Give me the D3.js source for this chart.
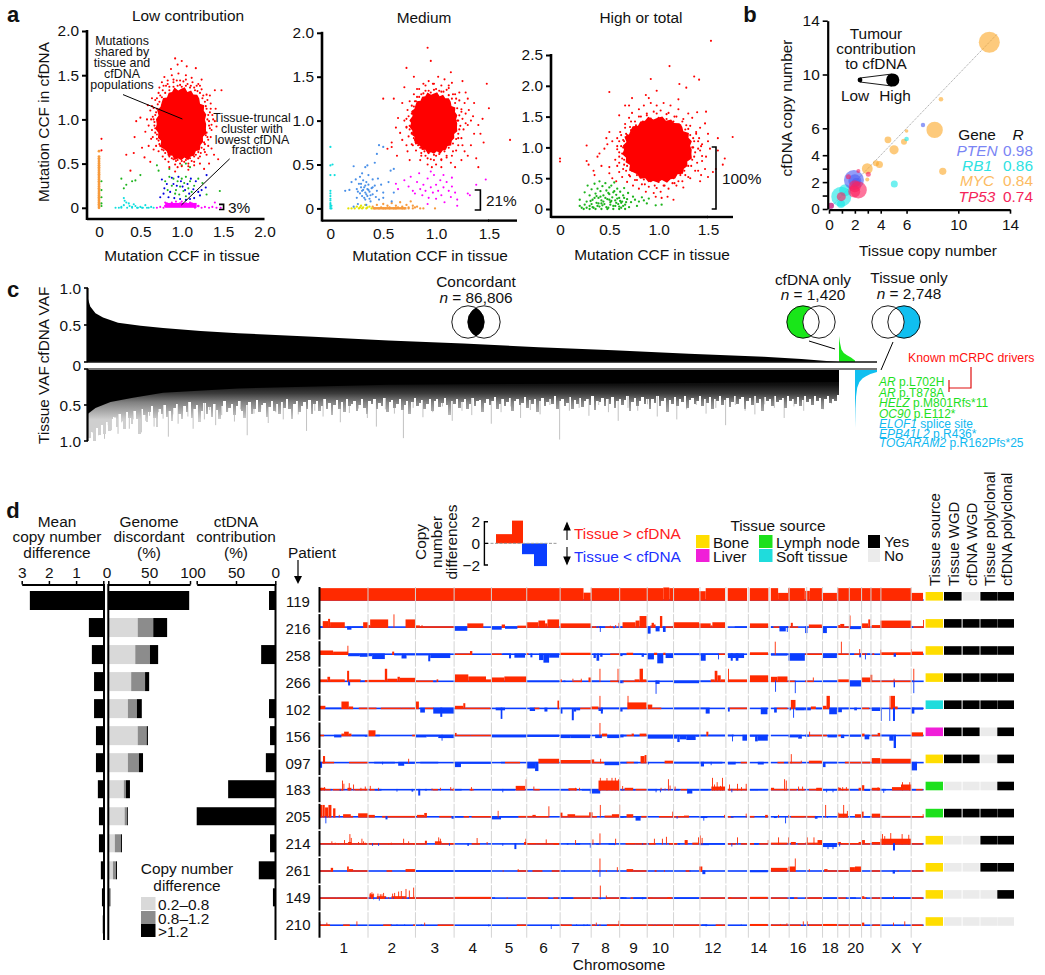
<!DOCTYPE html>
<html><head><meta charset="utf-8">
<script src="https://cdn.jsdelivr.net/npm/d3@7"></script>
<style>html,body{margin:0;padding:0;background:#fff}svg{display:block}text{font-family:"Liberation Sans",Arial,sans-serif;fill:#111}</style>
</head><body><svg id="c" width="1045" height="975"></svg>
<script>
/* ---------- panel a values ---------- */
const lowCore=[0.995,0.947,0.3,0.4], medCore=[0.98,0.97,0.22,0.34], highCore=[0.99,0.96,0.345,0.52];
const coreEdge=[1,.96,1.04,.98,1.06,.95,1.02,1.05,.97,1.03,.94,1.05,1,.96,1.07,.98,1.02,.95,1.04,1,.97,1.06,.95,1.03,.99,1.05,.96,1.02,.94,1.06,1,.97,1.04,.96,1.05,.98,1.02,.95,1.06,.99,1.03,.96,1.05,.97,1.01,.94,1.04,1];
const lowRed=[[1.31,1.0],[1.33,.93],[1.3,.85],[1.34,1.08],[1.29,1.15],[1.36,.88],[1.28,.72],[1.32,.77],[1.38,1.0],[1.31,1.22],[1.26,1.27],[1.35,1.18],[1.41,1.12],[1.27,.66],[1.23,.62],[1.3,.6],[1.36,.67],[1.2,.56],[1.17,.6],[1.12,.53],[1.08,.5],[1.15,.48],[1.03,.52],[.98,.5],[.93,.53],[.88,.56],[.84,.6],[.95,.46],[.8,.55],[.78,.65],[.74,.7],[.72,.76],[.7,.83],[.68,.9],[.67,.97],[.65,1.03],[.69,1.08],[.66,1.13],[.71,1.17],[.7,1.24],[.74,1.27],[.77,1.33],[.73,1.36],[.81,1.38],[.85,1.37],[.83,1.44],[.9,1.42],[.94,1.44],[.98,1.39],[1.02,1.43],[1.07,1.4],[1.11,1.38],[1.15,1.36],[1.19,1.32],[1.12,1.47],[1.05,1.5],[.96,1.52],[.88,1.5],[1.2,1.4],[.6,.93],[.62,1.1],[.58,1.0],[.63,.78],[.66,.66],[.6,.7],[.92,1.69],[1.0,1.66],[.95,1.62],[1.17,1.58],[1.06,1.6],[.79,1.48],[1.24,1.45],[1.4,1.33],[1.48,1.33],[1.42,.92],[1.45,.75],[1.39,.6],[1.44,.55],[.45,.98],[.5,1.02],[.43,.8],[.42,.62],[.33,.6],[.38,.42],[.52,.68],[.62,.52],[1.33,.5],[.03,.78],[.03,.65],[1.27,.44],[1.08,.43],[.85,.46],[1.22,.5],[.55,.57],[1.4,.98],[1.22,1.38],[.87,1.57],[.76,1.42],[1.34,1.27],[.56,.86],[.59,1.16],[.64,1.24],[.92,.41],
[1.33,.98],[1.32,1.05],[1.34,.9],[1.31,.8],[1.3,1.12],[1.28,1.2],[1.25,1.24],[1.22,1.3],[1.16,1.33],[1.1,1.36],[1.05,1.38],[1,1.37],[.95,1.38],[.9,1.37],[.85,1.33],[.8,1.3],[.76,1.25],[.73,1.2],[.7,1.12],[.68,1.05],[.66,1.0],[.67,.93],[.68,.85],[.7,.78],[.73,.72],[.76,.66],[.8,.62],[.85,.58],[.9,.55],[.95,.54],[1.0,.53],[1.05,.54],[1.1,.56],[1.15,.58],[1.2,.63],[1.24,.68],[1.27,.74],[1.29,.82],[1.36,.94],[1.37,1.05],[1.35,1.12],[1.3,1.28],[1.24,1.34],[1.18,1.38],[1.13,1.42],[1.05,1.45],[.98,1.44],[.9,1.45],[.83,1.4],[.78,1.38],[.72,1.3],[.68,1.22],[.64,1.15],[.63,1.0],[.64,.88],[.65,.8],[.69,.7],[.72,.64],[.77,.58],[.84,.52],[.92,.49],[1.0,.47],[1.08,.47],[1.15,.52],[1.22,.58],[1.28,.63],[1.32,.7],[1.35,.8]];
const lowGreen=[[.7,.48],[.72,.42],[.27,.33],[.33,.26],[.4,.3],[.44,.31],[.5,.37],[.3,.22],[.85,.44],[1.0,.48],[1.05,.5],[1.1,.46],[.85,.35],[.9,.33],[.95,.3],[1.0,.33],[1.05,.35],[1.1,.3],[.88,.25],[.93,.2],[.98,.24],[1.03,.28],[1.08,.22],[1.12,.18],[.92,.16],[.97,.15],[1.02,.19],[1.05,.13],[1.15,.25],[1.2,.33],[1.25,.28],[.8,.3],[.83,.2],[1.3,.15],[1.46,.19],[.03,.3],[.03,.2],[.03,.12],[.03,.05],[.03,.02]];
const lowBlue=[[.76,.32],[.79,.22],[.82,.27],[.86,.18],[.88,.34],[.9,.27],[.94,.25],[.96,.35],[.99,.3],[1.01,.24],[1.04,.2],[1.07,.27],[1.09,.16],[1.11,.33],[1.14,.21],[1.17,.3],[1.2,.18],[1.24,.2],[.84,.12],[.91,.11],[.98,.1],[1.05,.09],[1.1,.1],[1.15,.11],[1.22,.14],[.78,.16],[.74,.12],[1.29,.23],[1.3,.37]];
const lowMagenta=[[.7,.0],[.74,.01],[.78,.0],[.8,.06],[.83,.03],[.85,.02],[.88,.06],[.9,.04],[.93,.07],[.95,.02],[.98,.05],[1.0,.07],[1.02,.03],[1.05,.05],[1.08,.02],[1.1,.06],[1.13,.03],[1.16,.0],[1.2,.02],[1.24,.0],[1.28,.01],[1.33,.0],[1.37,.01],[1.42,.0],[1.47,.0],[1.4,.06]];
const lowMagCore=[[.8,.02],[1.2,.02],[.82,.05],[1.12,.05]];
const lowCyan=[[.2,0],[.24,0],[.27,.01],[.3,.03],[.3,.11],[.31,.08],[.33,.06],[.36,.05],[.37,.02],[.4,.01],[.42,.04],[.44,.02],[.47,.0],[.5,.01],[.53,.0],[.56,.03],[.6,.0],[.63,.01],[.27,.0],[.34,.0],[.4,.0],[.46,.0],[.52,.0],[.58,.0],[.66,0]];
const lowOrange=[0,.02,.04,.06,.08,.1,.12,.14,.16,.18,.2,.22,.24,.26,.28,.3,.32,.34,.36,.38,.4,.42,.44,.46,.48,.5,.52,.54,.56,.58,.64];
const medRed=[[1.2,1.0],[1.22,.9],[1.24,1.1],[1.21,.8],[1.25,.72],[1.27,1.2],[1.19,1.25],[1.16,1.3],[1.22,1.32],[1.3,.95],[1.31,1.12],[1.36,.85],[1.33,.72],[1.27,.65],[1.19,.66],[1.15,.6],[1.1,.58],[1.14,.52],[1.05,.55],[1.0,.6],[.95,.56],[.9,.6],[.86,.63],[.92,.5],[1.0,.5],[1.05,.47],[.83,.72],[.8,.78],[.77,.85],[.75,.9],[.72,.93],[.76,1.0],[.74,1.05],[.78,1.1],[.77,1.17],[.8,1.22],[.82,1.27],[.86,1.3],[.9,1.34],[.95,1.32],[1.0,1.36],[1.05,1.33],[1.1,1.35],[.93,1.45],[.97,1.42],[1.02,1.5],[1.08,1.47],[1.15,1.43],[.88,1.42],[.82,1.36],[.92,1.83],[.95,1.68],[.72,1.6],[.79,1.5],[1.14,1.55],[.5,1.25],[.6,1.25],[.68,1.2],[.64,1.03],[.62,.92],[.66,.86],[.58,.75],[.54,.68],[.58,.7],[.68,.78],[.63,.6],[.73,.65],[.75,.55],[1.3,1.25],[1.35,1.05],[1.44,1.02],[1.4,.95],[1.48,1.42],[1.5,1.14],[1.28,1.32],[1.42,.85],[1.45,.75],[1.7,.78],[1.38,.57],[1.4,.47],[1.3,.6],[1.24,.55],[.7,1.38],[1.25,1.45],[.85,.55],[1.18,.47],[.96,.47],[.78,.72],[1.33,1.0],[.7,1.0],[1.12,1.4],[1.36,1.2],[.72,.72],
[1.21,1.0],[1.22,1.06],[1.23,.94],[1.21,.85],[1.2,1.14],[1.18,1.2],[1.15,1.25],[1.12,1.29],[1.07,1.33],[1.03,1.34],[.98,1.35],[.93,1.34],[.88,1.31],[.84,1.27],[.81,1.22],[.79,1.16],[.77,1.08],[.76,1.0],[.75,.94],[.77,.86],[.79,.8],[.81,.74],[.85,.69],[.89,.65],[.93,.63],[.98,.61],[1.03,.62],[1.08,.65],[1.12,.69],[1.16,.74],[1.19,.79],[1.25,1.02],[1.26,.9],[1.24,1.13],[1.22,1.23],[1.18,1.3],[1.12,1.37],[1.05,1.4],[.98,1.42],[.9,1.4],[.84,1.36],[.79,1.3],[.75,1.22],[.73,1.12],[.72,1.02],[.72,.92],[.74,.82],[.77,.73],[.81,.66],[.86,.6],[.92,.57],[.98,.55],[1.05,.56],[1.1,.6],[1.16,.65],[1.21,.72],[1.24,.8],[1.28,.97],[1.28,1.08]];
const medBlue=[[.14,.2],[.18,.21],[.2,.3],[.22,.48],[.24,.33],[.25,.22],[.25,.12],[.27,.28],[.28,.17],[.29,.24],[.3,.2],[.3,.14],[.31,.32],[.32,.24],[.33,.18],[.33,.1],[.34,.3],[.35,.22],[.35,.14],[.36,.27],[.37,.19],[.38,.08],[.39,.23],[.4,.33],[.4,.16],[.42,.26],[.43,.13],[.44,.2],[.45,.34],[.46,.1],[.48,.27],[.5,.12],[.5,.18],[.55,.3],[.57,.43],[.58,.08],[.6,.45],[.35,.49],[.33,.47],[.44,.62],[.46,.72],[.5,.7],[.42,.52],[.6,.18],[.3,.4],[.36,.38],[.26,.05],[.22,.02],[.34,.04],[.28,.36],[.26,.19],[.29,.28],[.31,.21],[.33,.26],[.34,.16],[.36,.21],[.38,.15],[.4,.24],[.32,.12],[.37,.11]];
const medCyan=[[0,.7],[0,.49],[.02,.5],[0,.38],[.04,.38],[0,.2],[0,.17],[0,.14],[0,.11],[0,.09],[0,.06],[0,.04],[0,.02],[0,0],[.01,0],[.01,.03]];
const medMagenta=[[.62,.28],[.64,.22],[.7,.32],[.74,.25],[.76,.36],[.78,.2],[.8,.17],[.82,.3],[.84,.4],[.85,.22],[.87,.15],[.88,.27],[.9,.2],[.92,.34],[.93,.12],[.95,.24],[.97,.18],[.98,.38],[1.0,.27],[1.0,.11],[1.02,.2],[1.04,.32],[1.05,.15],[1.07,.24],[1.08,.07],[1.1,.3],[1.12,.2],[1.14,.13],[1.15,.35],[1.18,.18],[1.2,.1],[1.2,.03],[1.3,.17],[1.32,.15],[1.38,.27],[1.47,.33],[.95,.42],[1.07,.38],[.92,.05],[1.15,.25]];
const medOrange=[[.4,.02],[.44,.04],[.46,0],[.48,.01],[.5,.05],[.52,0],[.54,.03],[.56,.01],[.58,.06],[.6,0],[.62,.03],[.64,.01],[.66,.07],[.68,.02],[.7,0],[.72,.04],[.74,.01],[.76,.08],[.78,.03],[.8,.01],[.82,.02],[.85,0],[.88,.0],[.99,0],[.42,0],[.5,0],[.56,0],[.62,0],[.68,0],[.74,0],[.78,0]];
const medYellow=[[.17,0],[.2,0],[.23,0],[.25,.02],[.27,0],[.29,.03],[.31,.01],[.33,.04],[.35,.01],[.37,.02],[.39,0],[.28,.01],[.34,0],[.3,0]];
const highRed=[[1.34,1.0],[1.36,.85],[1.35,1.15],[1.3,1.3],[1.33,.7],[1.27,.55],[1.2,.45],[1.14,.42],[1.06,.38],[.98,.34],[.9,.36],[.83,.4],[.76,.47],[.71,.53],[.67,.62],[.65,.72],[.63,.82],[.6,.92],[.62,1.02],[.64,1.12],[.67,1.22],[.71,1.33],[.76,1.42],[.82,1.5],[.88,1.55],[.95,1.58],[1.02,1.6],[1.1,1.56],[1.18,1.5],[1.24,1.42],[1.28,1.36],[1.4,1.1],[1.42,.95],[1.44,.78],[1.4,.62],[1.38,1.25],[1.32,.5],[1.25,.35],[1.18,.38],[1.1,.33],[1.02,.28],[.95,.26],[.87,.28],[.8,.33],[.74,.38],[.68,.44],[.63,.52],[.6,.6],[.58,.7],[.56,.8],[.58,1.02],[.58,1.15],[.61,1.25],[.66,1.38],[.7,1.48],[.73,1.56],[.8,1.62],[.85,1.68],[.92,1.72],[.98,1.68],[1.05,1.72],[1.12,1.68],[1.2,1.62],[1.3,1.55],[1.34,1.48],[1.42,1.32],[1.5,1.22],[1.52,.98],[1.48,.85],[1.47,.65],[1.43,.55],[1.5,.52],[1.42,.45],[1.15,.15],[1.09,.2],[1.03,.18],[.97,.2],[1.6,.95],[1.75,1.17],[1.6,1.15],[1.67,.82],[1.65,.72],[1.58,.65],[1.55,.6],[1.53,2.73],[1.11,2.32],[.92,2.11],[.5,1.9],[1.36,2.15],[1.41,2.1],[1.21,2.03],[1.28,1.97],[.98,1.92],[.87,1.85],[.73,1.8],[.66,1.68],[.6,1.52],[.5,1.25],[.47,1.15],[.53,1.1],[.48,1.05],[.27,1.03],[.4,.9],[.38,.85],[.45,.98],[.27,.78],[.29,.72],[.34,.62],[.35,.55],[.42,.7],[.5,.68],[.5,.58],[.53,.5],[.57,.45],[0,.82],[0,.77],[.7,1.68],[.9,1.8],[1.2,1.78],[1.39,1.57],[1.48,1.58],[1.47,1.39],[1.43,1.02],[1.5,1.1],
[1.35,1.0],[1.37,.92],[1.34,.8],[1.36,1.1],[1.32,1.2],[1.3,.7],[1.26,.62],[1.22,.55],[1.15,.5],[1.08,.47],[1.0,.44],[.92,.45],[.85,.48],[.78,.55],[.73,.62],[.68,.7],[.65,.8],[.63,.9],[.64,1.0],[.65,1.1],[.68,1.2],[.72,1.28],[.77,1.36],[.84,1.42],[.92,1.47],[1.0,1.48],[1.08,1.46],[1.15,1.42],[1.22,1.36],[1.27,1.29],[1.4,.98],[1.41,1.15],[1.39,.75],[1.37,.62],[1.3,.52],[1.24,.45],[1.16,.42],[1.05,.38],[.96,.38],[.86,.4],[.78,.47],[.7,.55],[.64,.65],[.6,.75],[.6,.85],[.58,.97],[.6,1.1],[.62,1.2],[.66,1.32],[.72,1.42],[.8,1.5],[.88,1.52],[.98,1.55],[1.08,1.54],[1.16,1.5],[1.25,1.46],[1.32,1.35],[1.38,1.22],[1.44,1.05],[1.44,.86]];
const highGreen=[[.2,.05],[.22,.02],[.2,.15],[.25,.27],[.27,.12],[.28,.38],[.3,.22],[.3,.05],[.32,.32],[.33,.15],[.34,.02],[.35,.41],[.36,.25],[.37,.1],[.38,.33],[.39,.18],[.4,.45],[.4,.04],[.41,.29],[.42,.14],[.43,.37],[.44,.22],[.45,.08],[.46,.42],[.47,.3],[.48,.16],[.49,.02],[.5,.35],[.5,.24],[.51,.11],[.52,.38],[.53,.19],[.54,.05],[.55,.43],[.55,.29],[.56,.14],[.57,.23],[.58,.33],[.59,.08],[.6,.18],[.61,.28],[.62,.02],[.63,.12],[.64,.22],[.65,.34],[.66,.07],[.68,.16],[.69,.26],[.7,.03],[.72,.11],[.74,.2],[.76,.15],[.78,.05],[.8,.12],[.83,.19],[.85,.14],[.88,.09],[.9,.17],[.97,.06],[1.03,.07],[.24,.0],[.3,.0],[.36,.0],[.42,.0],[.48,.0],[.54,.0],[.6,.0],[.66,.0],[.25,.07],[.32,.08],[.38,.05],[.44,.12],[.5,.15],[.56,.05],[.62,.1],[.27,.02],[.33,.03],[.39,.09],[.41,.2],[.43,.06],[.46,.18],[.47,.03],[.49,.26],[.51,.07],[.52,.13],[.54,.27],[.57,.1],[.58,.17],[.6,.04],[.61,.13],[.64,.05],[.65,.18],[.67,.11],[.35,.18],[.31,.13],[.37,.21],[.42,.09]];
const tickA12=[0,.5,1,1.5,2], tickHighY=[0,.5,1,1.5,2,2.5], tickA=[0,.5,1,1.5];
/* ---------- panel b values ---------- */
const mycBubbles=[[12.4,12.4,10.5],[8.66,8.16,2.3],[8.17,5.88,8.2],[6,5.8,1.8],[4.56,5.14,3.4],[5.8,5,3],[5.03,4.4,4.6],[3.9,3.3,3.5],[3.63,3.4,3],[2.96,3,5.4],[8.8,2.8,3.6],[2.96,2.2,2]];
const rb1Bubbles=[[6,5.2,2.3],[5.05,1.86,3.5],[.95,.92,10],[1.25,1.4,6],[.93,.37,4]];
const ptenBubbles=[[7.27,6.25,2.2],[1.93,2.16,10],[2,2.1,6.5],[2.1,2,4],[.15,.25,3]];
const tp53Bubbles=[[2.27,1.41,8.5],[1.95,1.3,6],[3.04,2.58,2.5],[2.27,2.83,2],[1.5,2.4,2.5],[.95,.92,4.5],[.15,.25,3],[2,1.7,6]];
const geneLegend=["PTEN","RB1","MYC","TP53"], geneR=["0.98","0.86","0.84","0.74"];
const tickB=[0,2,4,6,10,14], tickBMinor=[1,3];
/* ---------- panel c values ---------- */
const cfRank=[0,.003,.01,.02,.04,.07,.1,.15,.2,.3,.4,.5,.6,.7,.8,.9,.95,1];
const cfVaf=[.85,.75,.66,.6,.53,.49,.46,.42,.39,.34,.29,.25,.2,.16,.11,.07,.04,0];
const greenRank=[0,.05,.15,.3,.5,.75,1], greenVaf=[.35,.27,.17,.12,.09,.06,.02];
const blueRank=[0,.02,.05,.1,.2,.35,.5,.7,1], blueVaf=[.82,.55,.38,.26,.18,.13,.1,.07,.04];
const coreRank=[0,.01,.03,.06,.1,.2,.4,.7,1], coreDepth=[.62,.54,.46,.4,.33,.27,.22,.2,.18];
const fineDepth=[96,88,100,82,92,78,90,74,86,70,66,80,62,72,84,60,68,76,58,70,90,56,64,74,60,52,68,80,55,62,50,66,58,72,54,48,63,70,52,60,46,68,55,50,74,58,47,62,53,66,49,57,70,51,45,60,54,48,64,52,44,58,68,50,46,62,55,43,60,50,47,66,53,44,58,49,62,46,54,42,56,70,48,44,60,51,46,55,43,63,49,45,58,52,41,56,47,64,50,43,55,46,60,42,52,48,44,58,50,41,54,62,45,49,42,56,47,52,40,60,46,43,54,48,41,57,50,44,62,46,40,52,47,43,55,49,41,58,45,42,53,47,40,50,64,44,48,41,54,46,42,56,49,40,52,45,43,60,47,41,50,44,39,55,48,42,52,46,40,58,44,41,50,47,39,54,43,48,41,60,45,40,52,46,42,49,38,55,44,41,51,47,39,56,43,48,40,53,45,41,50,38,57,44,46,40,52,42,48,39,54,45,41,50,43,38,58,46,40,52,44,39,49,42,55,41,47,38,51,44,40,60,43,48,39,52,41,46,38,54,43,40,49,45,37,52,42,47,39,56,41,44,38,50,43,40,53,46,37,48,42,39,55,44,40,50,38,47,42,58,39,45,41,51,38,46,43,40,54,37,44,41,48,39,52,43,38,46,41,50,37,44,40,56,42,38,47,41,44,36];
const spikeRank=[.002,.006,.01,.014,.018,.022,.027,.031,.036,.04,.045,.05,.055,.06,.066,.071,.077,.082,.088,.094,.1,.107,.113,.12,.126,.133,.14,.147,.155,.162,.17,.178,.186,.195,.203,.212,.221,.23,.24,.25,.26,.27,.28,.291,.302,.313,.325,.336,.348,.36,.372,.384,.396,.408,.42,.433,.446,.459,.472,.485,.498,.511,.524,.537,.55,.563,.576,.589,.602,.615,.628,.641,.654,.667,.68,.693,.706,.719,.732,.745,.758,.771,.784,.797,.81,.823,.836,.849,.862,.875,.888,.901,.914,.927,.94,.953,.966,.979,.99];
const spikeDepth=[.96,.88,1,.92,.72,.97,.78,.85,.68,.9,.74,.66,.83,.7,.62,.88,.72,.65,.8,.6,.69,.94,.63,.76,.58,.66,.83,.6,.7,.57,.78,.64,.59,.73,.56,.92,.62,.55,.75,.6,.7,.54,.63,.86,.58,.66,.53,.74,.61,.55,.68,.8,.56,.62,.96,.54,.67,.6,.52,.72,.58,.64,.54,.76,.6,.52,.68,.57,.63,.5,.98,.58,.54,.65,.5,.6,.72,.54,.58,.49,.66,.53,.7,.56,.5,.62,.54,.78,.5,.58,.63,.49,.54,.68,.52,.58,.5,.56,.48];
const tickVaf=[.5,1];
const vennSets=[{name:"Concordant",n:"= 86,806"},{name:"cfDNA only",n:"= 1,420"},{name:"Tissue only",n:"= 2,748"}];
const driversGreen=[["AR"," p.L702H"],["AR"," p.T878A"],["HELZ"," p.M801Rfs*11"],["OC90"," p.E112*"]];
const driversBlue=[["ELOF1"," splice site"],["EPB41L2"," p.R436*"],["TOGARAM2"," p.R162Pfs*25"]];
/* ---------- panel d values ---------- */
const patients=["119","216","258","266","102","156","097","183","205","214","261","149","210"];
const meanDiff=[2.7,.53,.42,.34,.34,.27,.27,.2,.16,.16,.09,.05,.02];
const discLight=[0,36,33,28,24,36,24,19,20,8,5.7,1,0];
const discMid=[0,19,18,17,11,11,13.5,2.6,3,7.5,3.7,.5,0];
const discBlack=[99,17,10,5,6,1.5,5,4.9,1,1.2,1.2,1,0];
const ctdna=[8,0,18,0,8,6.7,12,60,100,6.7,21,3,0];
const tissueSource=["Bone","Bone","Bone","Bone","Soft tissue","Liver","Bone","Lymph node","Lymph node","Bone","Bone","Bone","Bone"];
const tissueWGD=[1,1,1,1,1,1,1,0,1,0,0,0,0];
const cfdnaWGD=[0,1,1,1,1,1,1,0,1,0,0,0,0];
const tissuePoly=[1,1,1,1,1,0,0,0,1,1,1,0,0];
const cfdnaPoly=[1,1,1,1,1,1,1,1,1,1,1,1,0];
const chromNames=["1","2","3","4","5","6","7","8","9","10","11","12","13","14","15","16","17","18","19","20","21","22","X","Y"];
const chromMb=[249,243,198,191,181,171,159,146,141,135,135,133,115,107,102,90,81,78,59,63,48,51,155,59];
const chromShown=["1","2","3","4","5","6","7","8","9","10","12","14","16","18","20","X","Y"];
const binMb=1.71; // segment positions below are in bins of 1.71 Mb along the genome
const noData=[[1215,1223],[1281,1289],[1345,1352]];
const seg119=[[0,791,1.12],[791,813,.72],[813,1030,1.12],[1030,1048,1.18],[1048,1137,1.12],[1137,1157,.85],[1157,1374,1.12],[1374,1404,.7],[1404,1454,1.12],[1455,1469,.88],[1469,1505,1.12],[1506,1550,.7],[1551,1773,1.12],[1773,1808,.7]];
const seg216=[[0,10,-.15],[10,26,.6],[26,32,.8],[32,76,.5],[83,96,-.3],[96,131,-.1],[131,146,.5],[146,152,.25],[152,206,.75],[258,288,.75],[288,301,.22],[301,404,.15],[405,443,-.4],[443,491,.4],[516,546,-.3],[546,556,.3],[556,593,-.22],[593,620,.2],[620,656,.5],[656,676,.65],[676,683,.4],[683,718,.75],[721,813,.4],[816,830,.08],[830,856,-.1],[856,880,.08],[902,908,-.1],[908,947,.5],[947,959,.65],[959,980,1.05],[982,992,-.65],[992,995,.25],[995,1002,.45],[1002,1007,.3],[1007,1019,-.45],[1020,1027,1.05],[1029,1037,-.5],[1037,1059,.05],[1059,1137,.5],[1137,1172,.4],[1172,1177,.22],[1177,1215,.5],[1244,1281,-.12],[1289,1345,.4],[1352,1360,-.15],[1360,1378,.1],[1378,1397,-.45],[1397,1404,-.12],[1405,1412,.15],[1412,1418,.45],[1418,1434,.12],[1455,1462,-.6],[1466,1505,.3],[1508,1520,-.6],[1520,1550,-.15],[1552,1560,.25],[1560,1572,.35],[1572,1588,.12],[1588,1622,-.25],[1624,1644,.4],[1644,1650,.75],[1654,1680,.25],[1680,1773,.65],[1773,1779,-.1],[1779,1808,.15]];
const spk216=[[222,1.2],[306,.25],[826,.15],[834,.1],[840,-.5],[870,.2],[881,-.18],[886,.25],[896,.45],[1400,-.5],[1588,1.1],[1808,.7]];
const seg258=[[0,41,.4],[41,86,.3],[86,121,-.25],[121,146,-.3],[146,158,-.25],[158,196,-.5],[218,224,.3],[224,246,-.18],[246,261,-.45],[261,288,-.18],[288,326,-.18],[326,332,-.7],[332,392,-.41],[406,451,.1],[451,458,.35],[516,546,.12],[548,568,-.05],[568,574,-.44],[584,616,-.38],[620,626,.18],[632,638,-.35],[658,671,-.59],[671,688,-.82],[688,718,-.38],[721,813,.2],[821,828,-.41],[830,838,-.65],[841,848,-.3],[871,901,.12],[901,908,-.24],[908,920,-.15],[920,940,.2],[940,965,-.12],[965,972,-.3],[982,1002,-.53],[1002,1012,.2],[1012,1030,-.88],[1030,1037,.2],[1037,1059,-.41],[1059,1137,-.15],[1137,1142,-.18],[1142,1157,-.65],[1157,1194,-.12],[1194,1215,.06],[1223,1272,-.41],[1232,1238,-.65],[1247,1255,-.65],[1289,1344,.24],[1352,1402,-.2],[1405,1454,-.65],[1455,1506,.15],[1508,1550,-.41],[1552,1588,.03],[1588,1602,-.12],[1602,1617,.12],[1617,1622,-.35],[1624,1640,.15],[1640,1650,-.12],[1656,1662,.15],[1680,1773,.24],[1720,1727,-.3],[1773,1808,.3]];
const spk258=[[84,.82],[1364,1.18],[1562,1.18],[1194,-.53],[1617,.53],[1634,-.53],[1680,.47],[1772,.53]];
const seg266=[[0,24,.24],[24,32,.47],[32,76,.24],[83,89,1],[86,92,-.44],[89,124,.24],[122,136,-.12],[136,146,.18],[146,196,.2],[196,203,1.18],[203,234,.3],[234,241,.47],[241,288,.38],[288,341,.15],[341,351,-.15],[351,356,.24],[406,446,.68],[446,499,.5],[499,516,.24],[516,554,.41],[554,620,.5],[620,718,-.15],[721,726,.24],[731,737,-.12],[761,786,.06],[806,813,.41],[816,839,-.12],[871,896,.12],[896,908,-.24],[908,944,.12],[944,959,.24],[959,969,1.18],[969,980,.24],[1007,1019,-.3],[1059,1137,-.24],[1137,1172,-.12],[1172,1184,.24],[1184,1192,1],[1192,1202,.6],[1202,1215,.24],[1223,1281,.24],[1289,1345,.6],[1352,1372,.47],[1372,1402,.5],[1404,1424,.06],[1455,1478,.06],[1507,1550,-.12],[1552,1587,.24],[1588,1622,-.53],[1624,1650,.41],[1650,1656,.65],[1654,1680,.12],[1680,1773,.12],[1720,1724,-.6],[1775,1779,-.05]];
const spk266=[[758,.3],[783,.3],[839,1.18],[893,1.18],[908,-.24],[965,1.18],[1007,-1.18],[1224,1.18],[1365,-1],[1424,-1.12],[1478,.41],[1720,.3],[1779,1.18],[1779,-1.12]];
const seg102=[[0,18,.3],[18,66,-.12],[66,88,.68],[88,101,.24],[118,146,.06],[146,171,.12],[184,246,.12],[246,271,.06],[271,288,.12],[288,298,.68],[302,316,-.44],[316,343,.12],[341,404,-.53],[362,368,-.82],[406,431,.3],[431,437,.53],[437,512,.12],[528,556,-.24],[543,548,-1],[630,646,-.3],[644,659,.12],[674,683,-.35],[713,718,.76],[722,728,-.53],[728,756,-.12],[756,762,-1.12],[762,769,-.35],[769,781,-.24],[781,813,.12],[813,836,.24],[836,849,-.3],[843,849,-.53],[849,901,-.12],[901,908,-.35],[908,923,-.1],[923,980,.6],[982,997,.41],[997,1024,.06],[1059,1137,-.15],[1137,1157,-.12],[1157,1169,-.53],[1223,1229,-.35],[1229,1281,.15],[1322,1342,-.59],[1362,1370,-.44],[1370,1402,.1],[1407,1412,-.24],[1412,1426,.82],[1426,1454,-.24],[1455,1472,-.24],[1472,1487,.24],[1487,1505,-.15],[1507,1519,.3],[1519,1529,1.18],[1527,1550,-.59],[1552,1565,-.41],[1565,1588,-.15],[1602,1610,-.24],[1624,1647,.12],[1654,1680,-.3],[1712,1724,1.18],[1718,1724,-1.18],[1724,1732,.24],[1773,1808,-.18],[1773,1782,-.53]];
const spk102=[[839,1.18],[923,1.18],[1419,-.9],[1682,-1.18],[1707,-1.18],[1708,1.18]];
const seg156=[[0,14,.06],[44,66,-.24],[66,74,.24],[74,88,.41],[88,96,.24],[98,136,-.12],[136,146,-.18],[146,168,.53],[168,181,-.1],[278,288,.06],[288,321,-.24],[321,356,-.18],[356,404,-.3],[406,411,.3],[411,452,.06],[452,516,.12],[516,620,-.24],[620,718,-.2],[721,753,-.3],[753,811,-.3],[826,846,-.3],[846,862,.24],[862,901,-.3],[901,911,-.24],[902,920,-.15],[920,935,.1],[935,942,.24],[942,959,-.15],[959,980,.24],[982,1059,-.35],[1059,1072,-.35],[1072,1079,-.65],[1079,1099,-.41],[1099,1127,-.47],[1127,1137,-.18],[1137,1159,-.12],[1159,1165,.41],[1165,1215,-.12],[1223,1242,-.12],[1267,1281,-.53],[1289,1305,-.18],[1305,1313,-.59],[1313,1343,-.53],[1405,1434,-.24],[1434,1445,-.35],[1455,1467,-.18],[1467,1506,.06],[1508,1520,.09],[1522,1550,-.24],[1552,1562,.06],[1562,1572,-.3],[1588,1622,-.18],[1625,1633,.24],[1633,1647,-.41],[1654,1672,.06],[1672,1680,.3],[1680,1707,-.12],[1707,1720,-.53],[1720,1727,-1.18],[1773,1808,.35]];
const spk156=[[366,-.53],[839,1.18],[1236,-.59],[1467,.41]];
const seg097=[[0,8,-.53],[8,44,.12],[11,17,.65],[89,146,.12],[164,226,-.15],[236,254,-.35],[254,286,-.18],[302,356,-.09],[406,424,-.47],[424,514,-.18],[544,556,-.09],[556,601,.06],[622,646,-.59],[646,656,-.82],[656,718,.41],[721,813,.3],[813,823,.35],[823,853,.06],[854,901,-.3],[902,922,-.15],[920,942,.15],[942,954,-.12],[962,974,.65],[974,980,.74],[1034,1059,.24],[1059,1137,-.15],[1137,1207,-.15],[1142,1152,-.41],[1223,1247,-.24],[1262,1281,.12],[1313,1331,-.24],[1372,1392,.06],[1392,1404,-.09],[1404,1442,.06],[1466,1505,.24],[1506,1516,-.47],[1516,1550,-.12],[1574,1588,.15],[1588,1622,.06],[1624,1650,.15],[1654,1680,.47],[1680,1772,.41],[1773,1790,-.76]];
const spk097=[[11,.65],[188,-.24],[266,.41],[841,.41],[984,-.24],[1412,.82],[1442,.24],[1172,-.3]];
const seg183=[[0,18,.24],[18,34,.12],[40,70,.08],[84,96,.24],[105,120,.12],[120,146,.15],[150,166,.1],[166,186,-.15],[276,281,-.24],[296,302,-.59],[316,322,-.12],[340,355,.12],[396,404,.12],[406,426,-.1],[450,462,.12],[516,586,-.1],[588,616,.41],[644,660,.1],[721,751,-.12],[746,771,.2],[786,813,-.15],[816,841,-.41],[836,901,.88],[902,914,-.12],[914,940,.24],[940,947,-.1],[947,980,.15],[982,1012,-.12],[1059,1079,-.15],[1082,1102,.06],[1102,1117,-.41],[1117,1137,-.15],[1137,1172,-.15],[1174,1215,.35],[1223,1280,.15],[1289,1302,-.15],[1302,1316,-.15],[1317,1343,-.1],[1352,1362,.24],[1362,1402,.15],[1405,1430,.09],[1434,1454,.09],[1466,1506,.15],[1488,1505,.24],[1507,1550,-.15],[1552,1562,.24],[1562,1587,.15],[1588,1616,-.12],[1615,1622,.24],[1624,1632,.47],[1632,1650,-.18],[1654,1680,.24],[1680,1697,-.12],[1715,1742,.3],[1742,1773,.53],[1773,1787,-.12],[1787,1807,.09]];
const spk183=[[4,.24],[14,.3],[68,.88],[72,.6],[88,.65],[101,.53],[123,.24],[136,.35],[151,.41],[176,.24],[34,-.12],[61,-.18],[231,-.24],[336,.18],[361,.24],[392,.3],[401,.24],[454,.3],[548,-.3],[618,1],[641,.35],[766,.24],[778,.24],[810,-.41],[840,1.12],[860,1.1],[875,1.12],[885,1.12],[895,1.0],[907,.4],[1007,-.3],[1020,-.3],[1022,.24],[1034,.18],[1044,1],[1049,.44],[1064,.35],[1102,-.41],[1176,1.12],[1182,.53],[1190,.74],[1200,.41],[1206,1.12],[1227,.53],[1234,-.3],[1251,.59],[1263,.3],[1277,.59],[1392,1],[1397,.88],[1434,.35],[1446,.35],[1518,-.3],[1537,-.3],[1554,.3],[1566,.3],[1577,.3],[1689,-.35],[1672,.3],[1745,.74],[1767,.74]];
const seg205=[[0,8,1.12],[9,16,1.12],[17,26,.9],[27,36,1.12],[41,48,.82],[71,94,.3],[94,101,.15],[116,146,.38],[146,166,.24],[188,287,.15],[198,204,-.3],[292,314,.24],[314,322,.41],[359,396,.15],[396,404,-.24],[406,432,-.12],[432,448,.12],[456,516,.12],[516,544,-.3],[544,596,-.09],[596,638,.15],[638,648,.24],[648,686,.12],[721,728,.44],[728,743,.15],[743,766,.3],[766,808,.18],[808,818,.47],[818,831,.12],[854,876,.18],[876,898,.3],[901,911,-.15],[902,920,-.12],[920,940,.3],[947,962,-.41],[964,980,.15],[1017,1057,.12],[1059,1092,.12],[1092,1107,.18],[1137,1162,-.18],[1223,1240,.06],[1232,1240,-.06],[1289,1303,.15],[1335,1343,.24],[1361,1370,-.18],[1412,1454,.15],[1455,1487,.15],[1484,1492,-.24],[1552,1582,.35],[1604,1622,.3],[1624,1630,.53],[1630,1650,-.12],[1654,1680,.35],[1680,1772,.15],[1773,1808,.05]];
const spk205=[[18,-.65],[58,.24],[534,.6],[686,1],[840,1.12],[898,1.12],[1057,.53],[1070,-.24],[1150,-.41],[1212,.24],[1277,.35],[1374,.24],[1395,-.65],[1404,.24],[1515,1.12],[1520,-.18],[1554,.44],[1569,1.12],[1580,.59],[1807,.3]];
const seg214=[[0,36,.1],[36,286,.04],[86,96,.24],[281,316,.12],[316,322,.35],[346,366,.3],[366,388,.09],[388,406,.15],[456,481,.09],[443,448,-.24],[584,590,-.53],[613,621,.24],[621,651,.15],[651,718,.04],[701,718,.12],[741,746,-.09],[766,781,-.12],[829,839,-.09],[866,884,-.12],[917,947,.15],[947,980,.12],[987,1007,.15],[1047,1072,.15],[1074,1080,-.12],[1094,1102,.41],[1117,1134,.18],[1137,1167,-.18],[1167,1215,-.09],[1223,1247,.12],[1262,1281,.03],[1289,1302,.15],[1302,1316,-.12],[1317,1343,.09],[1352,1402,.18],[1412,1427,.24],[1432,1454,.09],[1455,1506,.18],[1492,1506,.41],[1507,1550,-.35],[1552,1562,.24],[1562,1587,.15],[1588,1616,.15],[1615,1622,.24],[1624,1634,.41],[1634,1650,.12],[1654,1680,.24],[1680,1772,.53],[1718,1724,-.65],[1773,1807,.05]];
const spk214=[[36,.3],[46,.18],[56,.12],[74,.41],[90,.94],[94,.6],[116,.24],[126,.53],[131,.3],[136,.18],[158,-.24],[176,-.24],[206,.15],[214,.18],[251,.53],[266,.3],[356,.65],[361,.53],[388,-.24],[471,.59],[501,.24],[548,-.24],[617,.53],[678,.47],[766,.41],[810,-.41],[818,.47],[839,1],[886,.53],[882,-.18],[967,-.15],[1002,.53],[1026,.53],[1038,.7],[1100,.41],[1134,.65],[1140,.82],[1145,.6],[1234,-.3],[1251,.65],[1343,.41],[1374,.65],[1404,.65],[1460,.65],[1480,.65],[1522,-.53],[1537,-.53],[1557,-.3],[1685,.94],[1692,.76],[1710,1.03],[1744,.94],[1764,.88]];
const seg261=[[0,34,.12],[34,41,.35],[83,88,.47],[88,101,.24],[101,146,.06],[201,218,.06],[258,287,.24],[287,404,-.15],[404,514,-.12],[594,624,.06],[638,668,.06],[696,720,.06],[834,839,.12],[920,940,.24],[940,980,.06],[1004,1010,.12],[1097,1109,.06],[1137,1147,.47],[1147,1156,-.35],[1289,1343,-.18],[1352,1402,.35],[1405,1425,.47],[1512,1522,.24],[1522,1550,.09],[1552,1588,.06],[1588,1604,.41],[1604,1622,.47],[1654,1680,.12],[1717,1724,-.3],[1773,1807,.12]];
const spk261=[[549,.09],[594,.24],[732,-.12],[839,1.18],[839,-.59],[858,.12],[891,.41],[1032,.09],[1109,-.12],[1424,1.18],[1466,.24],[1732,.12]];
const seg149=[[0,52,.12],[52,146,.03],[150,161,.41],[172,200,.24],[216,260,.24],[270,288,.15],[288,404,.03],[404,514,.18],[516,526,-.09],[621,648,.15],[648,686,.03],[701,708,.12],[708,716,.06],[716,761,-.12],[761,836,.03],[860,901,.03],[901,911,-.12],[902,920,-.12],[932,940,.12],[940,980,-.12],[980,999,.15],[999,1052,.06],[1042,1057,.15],[1059,1137,-.15],[1137,1215,.03],[1223,1235,.03],[1227,1235,.12],[1235,1281,.03],[1289,1343,.18],[1352,1402,.12],[1405,1422,-.15],[1422,1432,.12],[1455,1466,.03],[1466,1505,.15],[1507,1550,-.15],[1552,1577,.06],[1588,1607,-.12],[1624,1632,.24],[1632,1638,.06],[1654,1672,.06],[1672,1684,.12],[1684,1772,-.15],[1773,1782,.15],[1782,1807,.03]];
const spk149=[[151,.53],[156,.59],[161,.47],[174,.47],[181,.41],[186,.41],[191,.53],[206,.15],[218,.47],[224,.53],[236,.65],[244,.7],[258,.88],[268,.74],[281,1],[286,.3],[151,-.09],[178,-.3],[161,-.18],[196,-.15],[221,-.12],[249,-.15],[266,-.12],[561,.09],[686,-.12],[840,1.18],[840,-.18],[858,.3],[967,-.18],[1577,-.15],[1638,-.15],[1718,.24]];
const seg210=[[0,32,.06],[71,91,.06],[191,216,.06],[281,288,.12],[354,404,.06],[591,621,.06],[721,726,.18],[726,756,.12],[816,826,.06],[861,889,.15],[889,911,.03],[902,1000,.03],[1000,1010,.12],[1010,1092,.03],[1092,1107,.12],[1107,1142,.03],[1145,1162,-.12],[1187,1207,.03],[1207,1215,.12],[1289,1343,.18],[1352,1402,.06],[1405,1442,.06],[1460,1506,.15],[1507,1550,.18],[1552,1588,.12],[1588,1622,.03],[1624,1632,.3],[1656,1680,.09],[1773,1807,.03]];
const spk210=[[0,.44],[21,.3],[111,.41],[214,-.15],[231,-.12],[254,-.12],[314,.3],[304,-.12],[506,-.18],[693,-.41],[769,-.12],[791,-.15],[801,-.12],[828,.3],[839,.12],[896,.47],[1354,.12],[1380,.18],[1399,.24],[1448,.41],[1460,.41],[1463,-.12],[1157,-.18],[1262,-.12],[1718,.3],[1752,.41]];
const trackSegs=[seg119,seg216,seg258,seg266,seg102,seg156,seg097,seg183,seg205,seg214,seg261,seg149,seg210];
const trackSpikes=[[],spk216,spk258,spk266,spk102,spk156,spk097,spk183,spk205,spk214,spk261,spk149,spk210];
/* ---------- colours ---------- */
const cRed="#ff0000",cTrackRed="#ff2a00",cTrackBlue="#0a3dff",cGreenV="#19e619",cBlueV="#10bff0";
const srcColor={"Bone":"#ffdd00","Liver":"#f01fd8","Lymph node":"#1de01d","Soft tissue":"#1fdcdc"};
const FS=15.4;
const svg=d3.select("#c");
function txt(x,y,s,o={}){const t=svg.append("text").attr("x",x).attr("y",y).text(s).attr("font-size",o.size||FS).attr("text-anchor",o.anchor||"middle").attr("dominant-baseline","central");
 if(o.fill)t.style("fill",o.fill); if(o.bold)t.attr("font-weight","bold"); if(o.italic)t.attr("font-style","italic"); if(o.rot!=null)t.attr("transform",`rotate(${o.rot} ${x} ${y})`); return t;}
function line(x1,y1,x2,y2,c="#000",w=1){return svg.append("line").attr("x1",x1).attr("y1",y1).attr("x2",x2).attr("y2",y2).attr("stroke",c).attr("stroke-width",w);}
function bracket(x0,x1,y0,y1){svg.append("path").attr("d",`M${x0},${y0}H${x1}V${y1}H${x0}`).attr("fill","none").attr("stroke","#000").attr("stroke-width",1.6);}
[["a",13,14],["b",750,14],["c",13,289],["d",13,510]].forEach(d=>txt(d[1],d[2],d[0],{size:22,bold:true}));
/* ---------- panel a ---------- */
function scatterAxes(x,y,xt,yt,left,bottom){
 const gx=svg.append("g").attr("transform",`translate(0,${bottom})`).call(d3.axisBottom(x).tickValues(xt).tickFormat(d=>d===0?"0":d3.format(".1f")(d)).tickSizeOuter(0).tickSize(0));
 gx.select(".domain").remove();
 gx.selectAll("text").attr("font-size",FS).attr("dy","1.0em").attr("font-family","Liberation Sans");
 const gy=svg.append("g").attr("transform",`translate(${left},0)`).call(d3.axisLeft(y).tickValues(yt).tickFormat(d=>d===0?"0":d3.format(".1f")(d)).tickSizeOuter(0).tickSize(5).tickPadding(3));
 gy.select(".domain").remove(); gy.selectAll("line").attr("stroke-width",2);
 gy.selectAll("text").attr("font-size",FS).attr("font-family","Liberation Sans");
 line(left,y(yt[yt.length-1])-1,left,bottom+1,"#000",2.6); line(left,bottom,x.range()[1],bottom,"#000",2.4);
}
function pts(x,y,data,color,r=1.05){svg.append("g").selectAll("circle").data(data).join("circle").attr("cx",d=>x(d[0])).attr("cy",d=>y(d[1])).attr("r",r).attr("fill",color);}
function core(x,y,c,color=cRed){const n=coreEdge.length;
 const d=d3.line().x((m,i)=>x(c[0]+Math.cos(i/n*2*Math.PI)*c[2]*m)).y((m,i)=>y(c[1]+Math.sin(i/n*2*Math.PI)*c[3]*m)).curve(d3.curveLinearClosed)(coreEdge);
 svg.append("path").attr("d",d).attr("fill",color);}
// low
const x1=d3.scaleLinear().domain([0,2]).range([99,264.5]), y1=d3.scaleLinear().domain([0,2]).range([207.8,31]);
scatterAxes(x1,y1,tickA12,tickA12,87,219);
pts(x1,y1,lowOrange.map(v=>[0,v]),"#f79a3c",1.4);
pts(x1,y1,lowCyan,"#10dede"); pts(x1,y1,lowMagenta,"#ff00ff");
svg.append("rect").attr("x",x1(.8)).attr("y",y1(.055)).attr("width",x1(1.18)-x1(.8)).attr("height",y1(0)-y1(.055)).attr("fill","#ff00ff");
pts(x1,y1,lowMagCore,"#ff00ff",1.2);
pts(x1,y1,lowGreen,"#1db41d"); pts(x1,y1,lowBlue,"#0000e0"); pts(x1,y1,lowRed,cRed); core(x1,y1,lowCore);
const topA=[["Mutations",40.5],["shared by",51.5],["tissue and",62.5],["cfDNA",73.5],["populations",84.5]];
topA.forEach(d=>txt(122,d[1],d[0],{size:12.4}));
line(123,94.6,182.4,119,"#000",1);
[["Tissue-truncal",118],["cluster with",129],["lowest cfDNA",139.5],["fraction",150]].forEach(d=>txt(252,d[1],d[0],{size:12.4}));
line(229.7,158.8,181.4,205,"#000",1);
bracket(219,223.6,204.4,209.5); txt(228,207,"3%",{anchor:"start"});
txt(188,15,"Low contribution"); txt(182,255,"Mutation CCF in tissue");
txt(43,122,"Mutation CCF in cfDNA",{rot:-90});
// medium
const x2=d3.scaleLinear().domain([0,1.5]).range([330.4,488.9]), y2=d3.scaleLinear().domain([0,2]).range([208.4,32.8]);
scatterAxes(x2,y2,tickA,tickA12,322,220.6); line(488,220.6,517,220.6,"#000",2.4);
pts(x2,y2,medCyan,"#10dede",1.1); pts(x2,y2,medOrange,"#f79a3c",1.15); pts(x2,y2,medYellow,"#e4e400",1.15);
svg.append("rect").attr("x",x2(.4)).attr("y",y2(.015)).attr("width",x2(.72)-x2(.4)).attr("height",2.4).attr("fill","#f79a3c");
pts(x2,y2,medBlue,"#4a90e8",1.1); pts(x2,y2,medMagenta,"#ff00ff"); pts(x2,y2,medRed,cRed); core(x2,y2,medCore);
bracket(474.7,480.4,190,210); txt(486,200,"21%",{anchor:"start"});
txt(424,17,"Medium"); txt(430,255,"Mutation CCF in tissue");
// high
const x3=d3.scaleLinear().domain([0,1.5]).range([560,708]), y3=d3.scaleLinear().domain([0,2.5]).range([209,55]);
scatterAxes(x3,y3,tickA,tickHighY,551,217); line(707,217,733,217,"#000",2.4);
pts(x3,y3,highGreen,"#1db41d",1.15); pts(x3,y3,highRed,cRed); core(x3,y3,highCore);
bracket(711.7,716,147,209); txt(722,178,"100%",{anchor:"start"});
txt(641,17,"High or total"); txt(652,254,"Mutation CCF in tissue");
/* ---------- panel b ---------- */
const xb=d3.scaleLinear().domain([0,14]).range([829,1010]), yb=d3.scaleLinear().domain([0,14]).range([209,20.7]);
line(xb(0),yb(0),xb(13),yb(13),"#9a9a9a",.9).attr("stroke-dasharray","1.2 1");
[[mycBubbles,"#fba92c"],[rb1Bubbles,"#18e6e6"],[ptenBubbles,"#4d5ff2"],[tp53Bubbles,"#fb2060"]].forEach(([d,c])=>{
 svg.append("g").selectAll("circle").data(d).join("circle").attr("cx",v=>xb(v[0])).attr("cy",v=>yb(v[1])).attr("r",v=>v[2]).attr("fill",c).attr("fill-opacity",.62);});
const gbx=svg.append("g").attr("transform","translate(0,209.7)").call(d3.axisBottom(xb).tickValues(tickB.concat(tickBMinor)).tickFormat(d=>tickB.includes(d)?d:"").tickSize(4).tickSizeOuter(0));
const gby=svg.append("g").attr("transform","translate(827.7,0)").call(d3.axisLeft(yb).tickValues(tickB.concat(tickBMinor)).tickFormat(d=>tickB.includes(d)?d:"").tickSize(5).tickSizeOuter(0));
[gbx,gby].forEach(g=>{g.select(".domain").attr("stroke-width",2.2);g.selectAll("line").attr("stroke-width",1.6);g.selectAll("text").attr("font-size",FS).attr("font-family","Liberation Sans");});
gbx.selectAll("text").attr("dy","0.85em");
txt(928,250,"Tissue copy number"); txt(786,108,"cfDNA copy number",{rot:-90});
[["Tumour",33],["contribution",48],["to cfDNA",63]].forEach(d=>txt(876,d[1],d[0]));
svg.append("path").attr("d","M860,78L892,74V86L860,82Z").attr("fill","#fff").attr("stroke","#000").attr("stroke-width",.9);
svg.append("circle").attr("cx",860).attr("cy",80).attr("r",2.4); svg.append("circle").attr("cx",892.7).attr("cy",80).attr("r",6.6);
txt(855,95,"Low"); txt(895,95,"High");
txt(977,134,"Gene"); txt(1018,134,"R",{italic:true});
const legC=["#7a85f5","#2fe2e2","#fcbb62","#f5245a"];
geneLegend.forEach((g,i)=>{const y=150+i*15.4; txt(977,y,g,{italic:true,fill:legC[i]}); txt(1018,y,geneR[i],{fill:legC[i]});});
/* ---------- panel c ---------- */
const xc=d3.scaleLinear().domain([0,1]).range([88,839]), xg=d3.scaleLinear().domain([0,1]).range([839,855]), xbl=d3.scaleLinear().domain([0,1]).range([855,877]);
const yu=d3.scaleLinear().domain([0,1]).range([362,288]), yd=d3.scaleLinear().domain([0,1]).range([369,441]);
const defs=svg.append("defs"); const gr=defs.append("linearGradient").attr("id","haze").attr("gradientUnits","userSpaceOnUse").attr("x1",0).attr("x2",0).attr("y1",yd(.1)).attr("y2",yd(.7));
[[0,"#000"],[.2,"#111"],[.4,"#3c3c3c"],[.6,"#808080"],[1,"#cfcfcf"]].forEach(s=>gr.append("stop").attr("offset",s[0]).attr("stop-color",s[1]));
svg.append("path").datum(cfRank.map((r,i)=>[r,cfVaf[i]])).attr("fill","#000").attr("d",d3.area().x(d=>xc(d[0])).y0(yu(0)).y1(d=>yu(d[1])));
svg.append("path").datum(greenRank.map((r,i)=>[r,greenVaf[i]])).attr("fill",cGreenV).attr("d",d3.area().x(d=>xg(d[0])).y0(yu(0)).y1(d=>yu(d[1])));
svg.append("path").datum(blueRank.map((r,i)=>[r,blueVaf[i]])).attr("fill",cBlueV).attr("d",d3.area().x(d=>xbl(d[0])).y0(yd(0)).y1(d=>yd(d[1])));
svg.append("g").selectAll("line").data(spikeRank.map((r,i)=>[r,spikeDepth[i]])).join("line").attr("x1",d=>xc(d[0])).attr("x2",d=>xc(d[0])).attr("y1",yd(.2)).attr("y2",d=>yd(d[1])).attr("stroke","#a8a8a8").attr("stroke-width",.7);
const fineW=(xc(1)-xc(0))/fineDepth.length;
svg.append("g").attr("shape-rendering","crispEdges").selectAll("rect").data(fineDepth).join("rect").attr("x",(d,i)=>xc(0)+i*fineW).attr("width",fineW+.1).attr("y",yd(0)).attr("height",d=>yd(d/100)-yd(0)).attr("fill","url(#haze)");
svg.append("path").datum(coreRank.map((r,i)=>[r,coreDepth[i]])).attr("fill","#000").attr("d",d3.area().x(d=>xc(d[0])).y0(yd(0)).y1(d=>yd(d[1])));
line(88,362,877,362,"#111",1.6); line(88,369,877,369,"#777",2);
[yu,yd].forEach(s=>{line(87.5,s(0),87.5,s(1),"#000",2.2);
 line(84,s(0),88,s(0),"#000",1.6);
 tickVaf.forEach(t=>{line(84,s(t),88,s(t),"#000",1.6); txt(81,s(t),t.toFixed(1),{anchor:"end"});});});
txt(81,365.5,"0",{anchor:"end"});
txt(43,325,"cfDNA VAF",{rot:-90}); txt(43,405,"Tissue VAF",{rot:-90});
function venn(cx1,fillId,lensFill,leftFill,rightFill){const cx2=cx1+16,cy=322,r=16.2;
 const clip=defs.append("clipPath").attr("id",fillId+"A");clip.append("circle").attr("cx",cx1).attr("cy",cy).attr("r",r);
 if(leftFill){svg.append("circle").attr("cx",cx1).attr("cy",cy).attr("r",r).attr("fill",leftFill);svg.append("circle").attr("cx",cx2).attr("cy",cy).attr("r",r).attr("fill","#fff");}
 if(rightFill){svg.append("circle").attr("cx",cx2).attr("cy",cy).attr("r",r).attr("fill",rightFill);svg.append("circle").attr("cx",cx1).attr("cy",cy).attr("r",r).attr("fill","#fff");}
 if(lensFill)svg.append("circle").attr("cx",cx2).attr("cy",cy).attr("r",r).attr("fill",lensFill).attr("clip-path",`url(#${fillId}A)`);
 [cx1,cx2].forEach(c=>svg.append("circle").attr("cx",c).attr("cy",cy).attr("r",r).attr("fill","none").attr("stroke","#000").attr("stroke-width",.9));}
venn(468,"v1","#000"); venn(803,"v2",null,cGreenV,null); venn(888,"v3",null,null,cBlueV);
function vennLabel(cx,y1,y2,set){txt(cx,y1,set.name);const t=txt(cx,y2,"");t.append("tspan").attr("font-style","italic").text("n");t.append("tspan").text(" "+set.n);}
vennLabel(476,281,297,vennSets[0]); vennLabel(813,279,294,vennSets[1]); vennLabel(909,277,293,vennSets[2]);
line(809,341,835,349,"#000",1); line(893,342,881,370,"#000",1);
txt(908,358,"Known mCRPC drivers",{anchor:"start",size:12.3,fill:"#ff1010"});
svg.append("path").attr("d","M971,367V388H949M949,380V392").attr("fill","none").attr("stroke","#e01010").attr("stroke-width",1.2);
function drivers(list,y0,color){list.forEach((d,i)=>{const t=txt(879,y0[i],"",{anchor:"start",size:12});t.style("fill",color);t.append("tspan").attr("font-style","italic").text(d[0]);t.append("tspan").text(d[1]);});}
drivers(driversGreen,[382,392.5,403,413.5],"#1ee01e"); drivers(driversBlue,[424,433.5,443],"#10b8f0");
/* ---------- panel d bars ---------- */
const rowBase=patients.map((p,i)=>600+i*27.1), barTop=i=>591+i*27.03;
const xm=d3.scaleLinear().domain([0,3]).range([103.3,21.7]), xs=d3.scaleLinear().domain([0,100]).range([108.3,190]), xct=d3.scaleLinear().domain([0,100]).range([275.3,196.7]);
patients.forEach((p,i)=>{const y=barTop(i),h=i>=7?18:19;
 svg.append("rect").attr("x",xm(meanDiff[i])).attr("y",y).attr("width",xm(0)-xm(meanDiff[i])).attr("height",h).attr("fill","#000");
 let a=0;[[discLight,"#d9d9d9"],[discMid,"#8c8c8c"],[discBlack,"#000"]].forEach(([arr,c])=>{svg.append("rect").attr("x",xs(a)).attr("y",y).attr("width",xs(a+arr[i])-xs(a)).attr("height",h).attr("fill",c);a+=arr[i];});
 svg.append("rect").attr("x",xct(ctdna[i])).attr("y",y).attr("width",xct(0)-xct(ctdna[i])).attr("height",h).attr("fill","#000");
 txt(298,y+h/2+.5,p,{size:15});
});
function topAxis(x,t,labs){const g=svg.append("g").attr("transform","translate(0,584.5)").call(d3.axisTop(x).tickValues(t).tickFormat(d=>labs.includes(d)?d:"").tickSize(3.5).tickSizeOuter(0).tickPadding(3));
 g.select(".domain").attr("stroke-width",1.8); g.selectAll("line").attr("stroke-width",1.5); g.selectAll("text").attr("font-size",FS).attr("font-family","Liberation Sans");}
topAxis(xm,[3,2,1,0],[3,2,1]); topAxis(xs,[0,50,100],[50]); topAxis(xct,[100,50,0],[50,0]);
txt(107,572.5,"0"); txt(193,572.5,"100");
line(104,584,104,940,"#000",2); line(108.3,584,108.3,940,"#000",2); line(275.5,584,275.5,940,"#000",2);
[["Mean",521],["copy number",536],["difference",552]].forEach(d=>txt(57,d[1],d[0]));
[["Genome",521],["discordant",536],["(%)",552]].forEach(d=>txt(149,d[1],d[0]));
[["ctDNA",521],["contribution",536],["(%)",552]].forEach(d=>txt(236,d[1],d[0]));
txt(312,552,"Patient");
svg.append("path").attr("d","M298,560V578").attr("stroke","#000").attr("stroke-width",1.2);
svg.append("path").attr("d","M294,576L298,584L302,576Z").attr("fill","#000");
txt(187,868,"Copy number"); txt(187,885,"difference");
[["0.2–0.8","#d9d9d9",897],["0.8–1.2","#8c8c8c",911],[">1.2","#000",924]].forEach(d=>{svg.append("rect").attr("x",141).attr("y",d[2]).attr("width",14.5).attr("height",13).attr("fill",d[1]);txt(158,d[2]+7,d[0],{anchor:"start"});});
/* ---------- panel d tracks ---------- */
const xg0=d3.scaleLinear().domain([0,d3.sum(chromMb)]).range([319.4,922.7]); const xBin=b=>xg0(b*binMb);
const vUnit=11.3; const ends=d3.cumsum(chromMb);
const tracks=svg.append("g");
patients.forEach((p,i)=>{const b=rowBase[i];
 tracks.append("rect").attr("x",xg0(0)).attr("y",b-.8).attr("width",xg0(3095)-xg0(0)).attr("height",1.6).attr("fill",cTrackBlue);
 const draw=d=>{const v=d.v,h=Math.max(Math.abs(v)*vUnit,1.6);tracks.append("rect").attr("x",xBin(d.s)).attr("width",Math.max(xBin(d.e)-xBin(d.s),.9)).attr("y",v>=0?b-h+.8:b-.8).attr("height",h).attr("fill",v>=0?cTrackRed:cTrackBlue);};
 trackSegs[i].forEach(s=>draw({s:s[0],e:s[1],v:s[2]}));
 trackSpikes[i].forEach(s=>draw({s:s[0],e:s[0]+1,v:s[1]}));
 noData.forEach(g=>tracks.append("rect").attr("x",xBin(g[0])).attr("width",xBin(g[1])-xBin(g[0])).attr("y",b-14).attr("height",27).attr("fill","#fff"));
 ends.forEach((e,k)=>{if(k<23)line(xg0(e),b-13,xg0(e),b+12.5,"#d4d4d4",1);});
 line(319.5,b-13,319.5,b+12.5,"#000",2);
 const cy=b-8, cols=[[925.6,17.4,srcColor[tissueSource[i]]],[944,17.6,tissueWGD[i]],[962.6,17,cfdnaWGD[i]],[980.4,16.6,tissuePoly[i]],[997.3,16.7,cfdnaPoly[i]]];
 cols.forEach(c=>svg.append("rect").attr("x",c[0]).attr("y",cy).attr("width",c[1]).attr("height",8.6).attr("fill",typeof c[2]==="string"?c[2]:(c[2]?"#000":"#ebebeb")));
});
const chromMid=n=>{const k=chromNames.indexOf(n);return xg0(ends[k]-chromMb[k]/2);};
chromShown.forEach(n=>txt(chromMid(n),947,n));
txt(619,964,"Chromosome");
[["Tissue source",934],["Tissue WGD",953],["cfDNA WGD",971],["Tissue polyclonal",989],["cfDNA polyclonal",1006]].forEach(d=>txt(d[1],586,d[0],{rot:-90,anchor:"start",size:15}));
/* mini legend */
const ym=d3.scaleLinear().domain([-2,2]).range([565,521.7]);
const miniSteps=[[496,512,.85],[512,523,2.1],[522,534,-1],[534,547,-2.1]];
miniSteps.forEach(d=>svg.append("rect").attr("x",d[0]).attr("width",d[1]-d[0]).attr("y",d[2]>0?ym(d[2]):ym(0)).attr("height",Math.abs(ym(d[2])-ym(0))).attr("fill",d[2]>0?cTrackRed:cTrackBlue));
line(486,ym(0),558,ym(0),"#999",1).attr("stroke-dasharray","3 1.5");
svg.append("path").attr("d",`M488,${ym(2)}H484.4V${ym(-2)}H488M484.4,${ym(0)}H488`).attr("fill","none").attr("stroke","#000").attr("stroke-width",1.4);
[[2,"2"],[0,"0"],[-2,"−2"]].forEach(d=>txt(480,ym(d[0]),d[1],{anchor:"end"}));
[["Copy",420],["number",436],["differences",451]].forEach(d=>txt(d[1],542,d[0],{rot:-90}));
svg.append("path").attr("d","M567,540V526M564,530L567,523L570,530ZM567,547V561M564,557L567,564L570,557Z").attr("stroke","#000").attr("stroke-width",1.1).attr("fill","#000");
txt(574,533,"Tissue > cfDNA",{anchor:"start",fill:"#ff2020"}); txt(574,556,"Tissue < cfDNA",{anchor:"start",fill:"#2030ff"});
txt(778,525,"Tissue source");
[["Bone",696,535,713],["Liver",696,549,713],["Lymph node",759,535,776],["Soft tissue",759,549,776]].forEach(d=>{svg.append("rect").attr("x",d[1]).attr("y",d[2]).attr("width",13.5).attr("height",13).attr("fill",srcColor[d[0]]);txt(d[3],d[2]+7,d[0],{anchor:"start"});});
[["Yes","#000",535],["No","#ebebeb",549]].forEach(d=>{svg.append("rect").attr("x",868).attr("y",d[2]).attr("width",12).attr("height",13).attr("fill",d[1]);txt(884,d[2]+6,d[0],{anchor:"start"});});
</script></body></html>
